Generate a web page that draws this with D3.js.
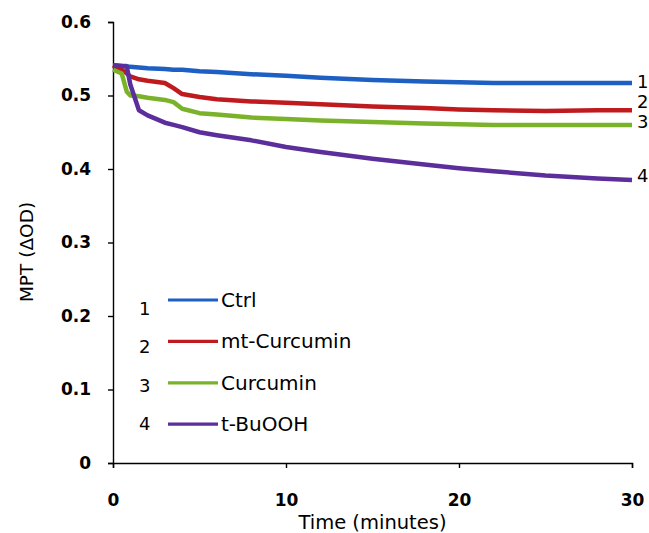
<!DOCTYPE html>
<html>
<head>
<meta charset="utf-8">
<script src="https://cdn.jsdelivr.net/npm/d3@7"></script>
<style>
  body { margin: 0; background: #fff; }
  text { font-family: "DejaVu Sans", sans-serif; fill: #000; }
</style>
</head>
<body>
<script>
// time points (minutes) and MPT readings per series
var time =   [0,     0.5,   0.8,   1,     1.5,   2,     3,     3.5,   4,     5,     6,     8,     10,    12,    15,    18,    20,    22,    25,    28,    30];
var ctrl =   [0.541, 0.540, 0.540, 0.539, 0.538, 0.537, 0.536, 0.535, 0.535, 0.533, 0.532, 0.529, 0.527, 0.524, 0.521, 0.519, 0.518, 0.517, 0.517, 0.517, 0.517];
var mtCurc = [0.541, 0.535, 0.530, 0.526, 0.522, 0.520, 0.517, 0.510, 0.502, 0.498, 0.495, 0.492, 0.490, 0.488, 0.485, 0.483, 0.481, 0.480, 0.479, 0.480, 0.480];
var curc =   [0.535, 0.530, 0.505, 0.500, 0.499, 0.497, 0.494, 0.491, 0.482, 0.476, 0.474, 0.470, 0.468, 0.466, 0.464, 0.462, 0.461, 0.460, 0.460, 0.460, 0.460];
var tbuooh = [0.541, 0.540, 0.539, 0.515, 0.480, 0.473, 0.463, 0.460, 0.457, 0.450, 0.446, 0.439, 0.430, 0.423, 0.414, 0.406, 0.401, 0.397, 0.391, 0.387, 0.385];

var seriesNames = ["Ctrl", "mt-Curcumin", "Curcumin", "t-BuOOH"];
var seriesIds = ["1", "2", "3", "4"];
var seriesColors = ["#1d5fc2", "#bf1b1f", "#7ab32a", "#5b2e9b"];
var seriesValues = [ctrl, mtCurc, curc, tbuooh];

var yTicks = [0, 0.1, 0.2, 0.3, 0.4, 0.5, 0.6];
var xTicks = [0, 10, 20, 30];

var W = 649, H = 533;
var svg = d3.select("body").append("svg")
  .attr("width", W)
  .attr("height", H);

var x = d3.scaleLinear().domain([0, 30]).range([113, 632]);
var y = d3.scaleLinear().domain([0, 0.6]).range([463, 22]);

// y axis
var yAxis = svg.append("g")
  .attr("transform", "translate(" + x(0) + ",0)")
  .call(d3.axisLeft(y).tickValues(yTicks).tickSize(5).tickPadding(17)
    .tickFormat(function(d) { return d === 0 ? "0" : d3.format(".1f")(d); }));
yAxis.selectAll("text")
  .style("font-size", "17px").style("font-weight", "bold")
  .attr("font-family", null);

// x axis
var xAxis = svg.append("g")
  .attr("transform", "translate(0," + y(0) + ")")
  .call(d3.axisBottom(x).tickValues(xTicks).tickSize(5).tickPadding(26));
xAxis.selectAll("text")
  .style("font-size", "17px").style("font-weight", "bold")
  .attr("font-family", null);
svg.selectAll(".domain, .tick line").attr("stroke", "#000").attr("stroke-width", 1.4);
svg.selectAll(".tick text").attr("fill", "#000");

// axis titles
svg.append("text")
  .attr("transform", "translate(33," + 252 + ") rotate(-90)")
  .attr("text-anchor", "middle")
  .style("font-size", "18.5px")
  .text("MPT (ΔOD)");

svg.append("text")
  .attr("x", x(15))
  .attr("y", 529)
  .attr("text-anchor", "middle")
  .style("font-size", "19.5px")
  .text("Time (minutes)");

// series lines
var line = d3.line()
  .x(function(d, i) { return x(time[i]); })
  .y(function(d) { return y(d); });

var endNudge = [5, -2, 3, 2];
seriesValues.forEach(function(vals, i) {
  svg.append("path")
    .datum(vals)
    .attr("d", line)
    .attr("fill", "none")
    .attr("stroke", seriesColors[i])
    .attr("stroke-width", 4.5)
    .attr("stroke-linejoin", "round");

  // end number
  svg.append("text")
    .attr("x", x(30) + 5)
    .attr("y", y(vals[vals.length - 1]) + endNudge[i])
    .style("font-size", "18px")
    .text(seriesIds[i]);
});

// legend
seriesNames.forEach(function(name, i) {
  var ly = 300 + i * 41.4;
  svg.append("text")
    .attr("x", 139)
    .attr("y", 315 + i * 38.3)
    .style("font-size", "18px")
    .text(seriesIds[i]);
  svg.append("line")
    .attr("x1", 168).attr("x2", 218)
    .attr("y1", ly).attr("y2", ly)
    .attr("stroke", seriesColors[i])
    .attr("stroke-width", 3.2);
  svg.append("text")
    .attr("x", 221)
    .attr("y", ly + 7)
    .style("font-size", "20px")
    .text(name);
});
</script>
</body>
</html>
